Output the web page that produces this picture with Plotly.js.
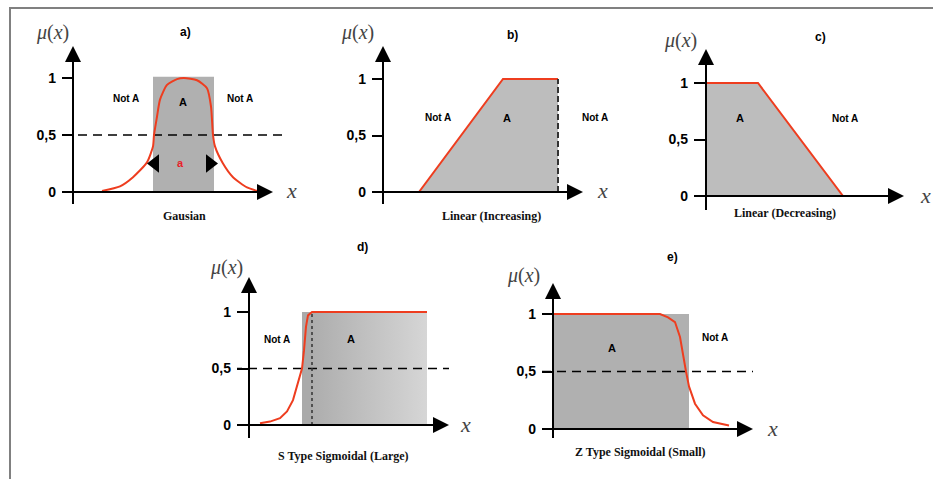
<!DOCTYPE html>
<html><head><meta charset="utf-8">
<script src="https://cdn.plot.ly/plotly-3.0.1.min.js"></script>
<style>html,body{margin:0;padding:0;background:#fff}#chart{width:933px;height:479px}</style>
</head><body><div id="chart"></div>
<script>
// ---------- data ----------
const yTickVals = [0, 0.5, 1];
const yTickText = ['0', '0,5', '1'];
const panelTitles = ['a)', 'b)', 'c)', 'd)', 'e)'];
const panelCaptions = ['Gausian', 'Linear (Increasing)', 'Linear (Decreasing)', 'S Type Sigmoidal (Large)', 'Z Type Sigmoidal (Small)'];
const halfLevel = 0.5;
// a) Gaussian
const gaussX = [2.9, 4.7, 6.0, 7.4, 8.0, 8.1, 8.4, 8.7, 9.4, 10.4, 11.1, 12.4, 13.4, 13.8, 14.0, 14.2, 15.0, 16.0, 17.4, 18.4];
const gaussY = [0.01, 0.05, 0.13, 0.26, 0.40, 0.5, 0.66, 0.81, 0.94, 0.99, 1.0, 0.98, 0.91, 0.75, 0.5, 0.40, 0.25, 0.13, 0.04, 0.01];
const gaussBandX = [8.0, 14.1];
const gaussBandTop = 1.01;
const widthArrowX = [8.2, 13.7];
const widthArrowY = 0.25;
// b) Linear increasing
const incX = [0.2, 3.6, 12.0, 17.5];
const incY = [0, 0, 1, 1];
// c) Linear decreasing
const decX = [0, 5.2, 13.7, 17.1];
const decY = [1, 1, 0, 0];
// d) S sigmoid
const sX = [1.1, 2.1, 3.1, 3.8, 4.4, 4.9, 5.3, 5.5, 5.7, 5.9, 6.3, 17.8];
const sY = [0.015, 0.03, 0.06, 0.12, 0.22, 0.37, 0.50, 0.66, 0.87, 0.97, 1.0, 1.0];
const sStripX = [5.3, 6.3];
const sGradX = [6.3, 17.8];
// e) Z sigmoid
const zX = [0, 10.7, 11.5, 12.2, 12.7, 13.0, 13.3, 13.6, 14.2, 15.0, 16.0, 17.6];
const zY = [1.0, 1.0, 0.97, 0.93, 0.80, 0.63, 0.50, 0.37, 0.22, 0.12, 0.06, 0.03];
const zBandX = [0, 13.6];

// ---------- layout geometry (pixels) ----------
const W = 933, H = 479, UX = 10;
const panels = [
  {id: '',  ox: 73,  oy: 192, uy: 114, left: 62,  right: 286, top: 42,  bottom: 204, tipX: 277, tipY: 42,
   mu: [52, 32],  xl: [291, 191], ti: [185, 32],  ca: [184, 216]},
  {id: '2', ox: 383, oy: 192, uy: 113, left: 372, right: 614, top: 42,  bottom: 204, tipX: 587, tipY: 42,
   mu: [357, 32], xl: [602, 191], ti: [512, 35],  ca: [492, 216]},
  {id: '3', ox: 706, oy: 196, uy: 113, left: 694, right: 914, top: 45,  bottom: 210, tipX: 908, tipY: 45,
   mu: [680, 41], xl: [925, 195], ti: [820, 37],  ca: [785, 213]},
  {id: '4', ox: 249, oy: 425, uy: 113, left: 237, right: 456, top: 273, bottom: 438, tipX: 453, tipY: 273,
   mu: [226, 267], xl: [465, 424], ti: [362, 247], ca: [343, 456]},
  {id: '5', ox: 553, oy: 429, uy: 115, left: 542, right: 762, top: 279, bottom: 438, tipX: 757, tipY: 279,
   mu: [523, 275], xl: [772, 428], ti: [672, 257], ca: [640, 452]}
];
const dx = (p, px) => (px - p.ox) / UX;
const dy = (p, py) => (p.oy - py) / p.uy;

const RED = '#ee3d1f';
const layout = {
  width: W, height: H, margin: {l: 0, r: 0, t: 0, b: 0},
  paper_bgcolor: '#fff', plot_bgcolor: 'rgba(0,0,0,0)',
  showlegend: false, hovermode: false,
  shapes: [], annotations: []
};
const traces = [];

panels.forEach((p, i) => {
  const xr = [dx(p, p.left), dx(p, p.right)];
  const yr = [dy(p, p.bottom), dy(p, p.top)];
  layout['xaxis' + p.id] = {
    domain: [p.left / W, p.right / W], range: xr, anchor: 'y' + p.id,
    showgrid: false, zeroline: false, showticklabels: false, ticks: '', showline: false, fixedrange: true
  };
  layout['yaxis' + p.id] = {
    domain: [1 - p.bottom / H, 1 - p.top / H], range: yr, anchor: 'x' + p.id,
    showgrid: false, zeroline: false, showline: false, fixedrange: true,
    tickmode: 'array', tickvals: yTickVals, ticktext: yTickText,
    ticks: 'inside', ticklen: p.ox - p.left, tickwidth: 2, tickcolor: '#000',
    ticklabelstandoff: 5,
    tickfont: {family: 'Liberation Sans, Arial, sans-serif', size: 14, weight: 700, color: '#000'}
  };
  const xref = 'x' + p.id, yref = 'y' + p.id;
  // axis lines
  layout.shapes.push({type: 'line', xref, yref, x0: xr[0], x1: dx(p, p.tipX - 8), y0: 0, y1: 0, line: {color: '#000', width: 2}});
  layout.shapes.push({type: 'line', xref, yref, x0: 0, x1: 0, y0: yr[0], y1: dy(p, p.tipY + 8), line: {color: '#000', width: 2}});
  // arrow heads
  layout.annotations.push({xref, yref, axref: xref, ayref: yref, x: dx(p, p.tipX - 4), y: 0, ax: dx(p, p.tipX - 30), ay: 0,
    text: '', showarrow: true, arrowhead: 2, arrowsize: 1.6, arrowwidth: 2, arrowcolor: '#000', standoff: 0, startstandoff: 0});
  layout.annotations.push({xref, yref, axref: xref, ayref: yref, x: 0, y: dy(p, p.tipY + 4), ax: 0, ay: dy(p, p.tipY + 30),
    text: '', showarrow: true, arrowhead: 2, arrowsize: 1.6, arrowwidth: 2, arrowcolor: '#000', standoff: 0, startstandoff: 0});
  // texts in paper coordinates
  const P = (pt) => ({x: pt[0] / W, y: 1 - pt[1] / H});
  layout.annotations.push(Object.assign({xref: 'paper', yref: 'paper', text: '<i>μ</i>(<i>x</i>)', showarrow: false,
    xanchor: 'center', yanchor: 'middle', font: {family: 'Liberation Serif, serif', size: 20, color: '#444'}}, P(p.mu)));
  layout.annotations.push(Object.assign({xref: 'paper', yref: 'paper', text: '<i>x</i>', showarrow: false,
    xanchor: 'center', yanchor: 'middle', font: {family: 'Liberation Serif, serif', size: 22, color: '#444'}}, P(p.xl)));
  layout.annotations.push(Object.assign({xref: 'paper', yref: 'paper', text: panelTitles[i], showarrow: false,
    xanchor: 'center', yanchor: 'middle', font: {family: 'Liberation Sans, Arial, sans-serif', size: 12, weight: 700, color: '#000'}}, P(p.ti)));
  layout.annotations.push(Object.assign({xref: 'paper', yref: 'paper', text: panelCaptions[i], showarrow: false,
    xanchor: 'center', yanchor: 'middle', font: {family: 'Liberation Serif, serif', size: 12, weight: 700, color: '#111'}}, P(p.ca)));
});

const lbl = (p, xpx, ypx, text, extra) => Object.assign({
  xref: 'x' + p.id, yref: 'y' + p.id, x: dx(p, xpx), y: dy(p, ypx), text, showarrow: false,
  xanchor: 'center', yanchor: 'middle',
  font: {family: 'Liberation Sans, Arial, sans-serif', size: 10, weight: 700, color: '#000'}}, extra || {});

const rect = (x0, x1, top) => ({x: [x0, x0, x1, x1, x0], y: [0, top, top, 0, 0]});
const dashStyle = {color: '#000', width: 1.5, dash: '9px,6px'};
const bigA = {font: {family: 'Liberation Sans, Arial, sans-serif', size: 11, weight: 700, color: '#000'}};

// ---- a) ----
{
  const p = panels[0], ax = {xaxis: 'x', yaxis: 'y'};
  const r = rect(gaussBandX[0], gaussBandX[1], gaussBandTop);
  traces.push(Object.assign({x: r.x, y: r.y, mode: 'none', fill: 'toself', fillcolor: '#b0b0b0'}, ax));
  traces.push(Object.assign({x: [dx(p, 63), dx(p, 283)], y: [halfLevel, halfLevel], mode: 'lines', line: dashStyle}, ax));
  traces.push(Object.assign({x: gaussX, y: gaussY, mode: 'lines', line: {color: RED, width: 2, shape: 'spline', smoothing: 0.6}}, ax));
  traces.push(Object.assign({x: widthArrowX, y: [widthArrowY, widthArrowY], mode: 'markers', cliponaxis: false,
    marker: {symbol: ['triangle-left', 'triangle-right'], size: 16, color: '#000'}}, ax));
  layout.annotations.push(lbl(p, 126, 99, 'Not A'));
  layout.annotations.push(lbl(p, 183, 102, 'A', bigA));
  layout.annotations.push(lbl(p, 240, 99, 'Not A'));
  layout.annotations.push(lbl(p, 180, 163, 'a', {font: {family: 'Liberation Sans, Arial, sans-serif', size: 11, weight: 700, color: '#e8202a'}}));
}
// ---- b) ----
{
  const p = panels[1], ax = {xaxis: 'x2', yaxis: 'y2'};
  traces.push(Object.assign({x: incX, y: incY, mode: 'lines', fill: 'tozeroy', fillcolor: '#bdbdbd', line: {color: RED, width: 2}}, ax));
  const lastX = incX[incX.length - 1];
  traces.push(Object.assign({x: [lastX, lastX], y: [0, incY[incY.length - 1]], mode: 'lines', line: {color: '#333', width: 2, dash: '6px,3px'}}, ax));
  layout.annotations.push(lbl(p, 438, 118, 'Not A'));
  layout.annotations.push(lbl(p, 507, 118, 'A', bigA));
  layout.annotations.push(lbl(p, 595, 118, 'Not A'));
}
// ---- c) ----
{
  const p = panels[2], ax = {xaxis: 'x3', yaxis: 'y3'};
  traces.push(Object.assign({x: decX, y: decY, mode: 'lines', fill: 'tozeroy', fillcolor: '#bdbdbd', line: {color: RED, width: 2}}, ax));
  layout.annotations.push(lbl(p, 740, 118, 'A', bigA));
  layout.annotations.push(lbl(p, 845, 118, 'Not A'));
}
// ---- d) ----
{
  const p = panels[3], ax = {xaxis: 'x4', yaxis: 'y4'};
  const r1 = rect(sStripX[0], sStripX[1], 1);
  traces.push(Object.assign({x: r1.x, y: r1.y, mode: 'none', fill: 'toself', fillcolor: '#aaaaaa'}, ax));
  const r2 = rect(sGradX[0], sGradX[1], 1);
  traces.push(Object.assign({x: r2.x, y: r2.y, mode: 'none', fill: 'toself', fillcolor: '#c4c4c4',
    fillgradient: {type: 'horizontal', colorscale: [[0, '#adadad'], [1, '#d6d6d6']]}}, ax));
  traces.push(Object.assign({x: [dx(p, 233), dx(p, 449)], y: [halfLevel, halfLevel], mode: 'lines', line: dashStyle}, ax));
  traces.push(Object.assign({x: [sGradX[0], sGradX[0]], y: [0, 1], mode: 'lines', line: {color: '#333', width: 1.5, dash: 'dot'}}, ax));
  traces.push(Object.assign({x: sX, y: sY, mode: 'lines', line: {color: RED, width: 2}}, ax));
  layout.annotations.push(lbl(p, 277, 339, 'Not A'));
  layout.annotations.push(lbl(p, 351, 339, 'A', bigA));
}
// ---- e) ----
{
  const p = panels[4], ax = {xaxis: 'x5', yaxis: 'y5'};
  const r = rect(zBandX[0], zBandX[1], 1);
  traces.push(Object.assign({x: r.x, y: r.y, mode: 'none', fill: 'toself', fillcolor: '#b0b0b0'}, ax));
  traces.push(Object.assign({x: [dx(p, 542), dx(p, 753)], y: [halfLevel, halfLevel], mode: 'lines', line: dashStyle}, ax));
  traces.push(Object.assign({x: zX, y: zY, mode: 'lines', line: {color: RED, width: 2}}, ax));
  layout.annotations.push(lbl(p, 715, 337, 'Not A'));
  layout.annotations.push(lbl(p, 612, 348, 'A', bigA));
}

// frame
layout.shapes.push({type: 'line', xref: 'paper', yref: 'paper', x0: 10 / W, x1: 1, y0: 1 - 8 / H, y1: 1 - 8 / H, line: {color: '#808080', width: 2}});
layout.shapes.push({type: 'line', xref: 'paper', yref: 'paper', x0: 10 / W, x1: 10 / W, y0: 1 - 7 / H, y1: 0, line: {color: '#808080', width: 2}});

Plotly.newPlot('chart', traces, layout, {displayModeBar: false, staticPlot: true});
</script>
</body></html>
